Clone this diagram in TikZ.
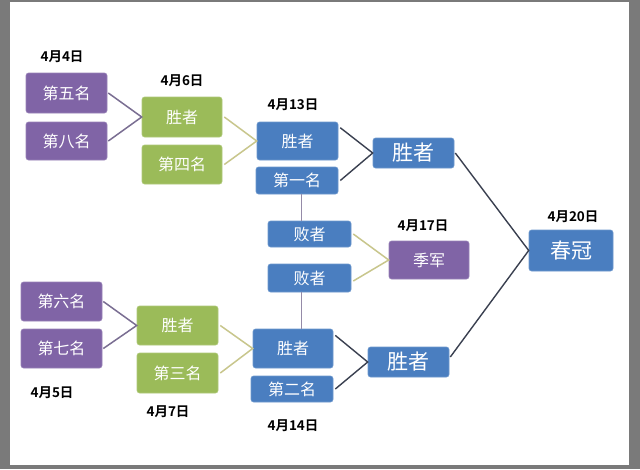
\documentclass[tikz,border=0pt]{standalone}
\usepackage{fontspec}
\usepackage{tikz}
\newfontfamily\cjk{Noto Sans CJK SC}[BoldFont={Noto Sans CJK SC Bold}]
\definecolor{boxpurple}{RGB}{128,100,166}
\definecolor{boxgreen}{RGB}{155,187,89}
\definecolor{boxblue}{RGB}{74,126,192}
\definecolor{linepurple}{RGB}{122,110,146}
\definecolor{linegreen}{RGB}{200,198,140}
\definecolor{lineblue}{RGB}{58,64,80}

\begin{document}
\begin{tikzpicture}[x=1pt,y=1pt,yscale=-1,xscale=1,
  box/.style={rounded corners=2.5pt,inner sep=0pt,text=white,font=\cjk\fontsize{16}{16}\selectfont},
  purplebox/.style={box,fill=boxpurple,draw=boxpurple!80!white,line width=0.6pt},
  greenbox/.style={box,fill=boxgreen,draw=boxgreen!80!white,line width=0.6pt},
  bluebox/.style={box,fill=boxblue,draw=boxblue!80!white,line width=0.6pt},
  bigtext/.style={font=\cjk\fontsize{21}{21}\selectfont},
  datelabel/.style={inner sep=0pt,font=\cjk\bfseries\fontsize{13.5}{14}\selectfont},
  purpleline/.style={linepurple,line width=1.5pt},
  greenline/.style={linegreen,line width=1.5pt},
  blueline/.style={lineblue,line width=1.4pt}]

%frame
\fill[black!52] (0,0) rectangle (640,469);
\fill[white] (10,2) rectangle (629,465);

% Upper half boxes
\node[purplebox,minimum width=81,minimum height=40] (fifth) at (66.5,93) {第五名};
\node[purplebox,minimum width=81,minimum height=38] (eighth) at (66.5,141) {第八名};
\node[greenbox,minimum width=80,minimum height=40] (winA) at (182,117) {胜者};
\node[greenbox,minimum width=80,minimum height=39] (fourth) at (182,164.5) {第四名};
\node[bluebox,minimum width=81,minimum height=38] (winC) at (297.5,141) {胜者};
\node[bluebox,minimum width=82,minimum height=27] (first) at (297,180.5) {第一名};
\node[bluebox,bigtext,minimum width=81,minimum height=30] (winUp) at (413.5,153) {胜者};

% Middle boxes
\node[bluebox,minimum width=83,minimum height=26] (loseA) at (309.5,234) {败者};
\node[bluebox,minimum width=83,minimum height=28] (loseB) at (309.5,278) {败者};
\node[purplebox,minimum width=80,minimum height=38] (third) at (429,260) {季军};
\node[bluebox,bigtext,minimum width=84,minimum height=41] (champ) at (571,250.5) {春冠};

% Lower half boxes
\node[purplebox,minimum width=81,minimum height=39] (sixth) at (61.5,301.5) {第六名};
\node[purplebox,minimum width=81,minimum height=39] (seventh) at (61.5,348.5) {第七名};
\node[greenbox,minimum width=81,minimum height=39] (winB) at (177.5,325.5) {胜者};
\node[greenbox,minimum width=81,minimum height=40] (thirdpl) at (177.5,373) {第三名};
\node[bluebox,minimum width=80,minimum height=39] (winD) at (293,348.5) {胜者};
\node[bluebox,minimum width=82,minimum height=26] (second) at (292,389) {第二名};
\node[bluebox,bigtext,minimum width=81,minimum height=30] (winLow) at (408.5,362) {胜者};

% Text Node
\node[datelabel] (dFour) at (62,57) {4月4日};
\node[datelabel] (dSix) at (182,81) {4月6日};
\node[datelabel] (dThirteen) at (293,105) {4月13日};
\node[datelabel] (dSeventeen) at (423,226) {4月17日};
\node[datelabel] (dTwenty) at (573,217) {4月20日};
\node[datelabel] (dFive) at (52,393) {4月5日};
\node[datelabel] (dSeven) at (168,412) {4月7日};
\node[datelabel] (dFourteen) at (293,426) {4月14日};

%Straight Lines
\draw[purpleline] ([xshift=1]fifth.east) -- (winA.west) -- ([xshift=1]eighth.east);
\draw[greenline] ([xshift=2]winA.east) -- (winC.west) -- ([xshift=2]fourth.east);
\draw[blueline] ([xshift=2]winC.18) -- (winUp.west) -- ([xshift=2]first.east);
\draw[purpleline] ([xshift=1]sixth.east) -- (winB.west) -- ([xshift=1]seventh.east);
\draw[greenline] ([xshift=2]winB.east) -- (winD.west) -- ([xshift=2]thirdpl.east);
\draw[blueline] ([xshift=2]winD.18) -- (winLow.west) -- ([xshift=2]second.east);
\draw[greenline] ([xshift=2]loseA.east) -- (third.west) -- ([xshift=2,yshift=3]loseB.east);
\draw[blueline] ([xshift=1]winUp.east) -- (champ.west) -- ([xshift=1,yshift=-5]winLow.east);
\draw[linepurple!80,line width=0.8pt] ([xshift=4]first.south) -- ([xshift=4]first.south |- loseA.north);
\draw[linepurple!80,line width=0.8pt] ([xshift=4]first.south |- loseB.south) -- ([xshift=4]first.south |- winD.north);

\end{tikzpicture}
\end{document}
